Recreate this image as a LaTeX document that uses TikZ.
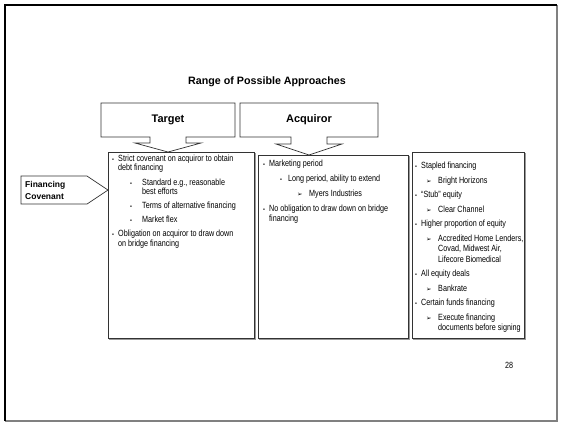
\documentclass[tikz,border=0pt]{standalone}
\usepackage{fontspec}
\setmainfont{Liberation Sans}
\newfontfamily\bodyfont[FakeStretch=0.80]{Liberation Sans}
\newfontfamily\symfont{DejaVu Sans}
\begin{document}
\begin{tikzpicture}[x=1pt,y=-1pt,
  boxline/.style={draw=black!80, line width=0.7pt, fill=white},
  shade/.style={draw=black!40, line width=1pt},
  txt/.style={anchor=base west, inner sep=0pt, font=\bodyfont\fontsize{9}{10}\selectfont},
  bul/.style={anchor=base west, inner sep=0pt, font=\fontsize{5.5}{6}\selectfont},
  arr/.style={anchor=base west, inner sep=0pt, font=\symfont\fontsize{6.5}{7}\selectfont},
  hdr/.style={inner sep=0pt, font=\bfseries\fontsize{11}{12}\selectfont},
  lbl/.style={anchor=base west, inner sep=0pt, font=\bfseries\fontsize{8.5}{10}\selectfont}]
\useasboundingbox (0,0) rectangle (563,424);
\fill[white] (0,0) rectangle (563,424);
% slide frame
\draw[black!50, line width=1.5pt] (557,5) -- (557,421) -- (5,421);
\draw[black, line width=2.2pt] (5,421) -- (5,5) -- (557,5);
% title
\node[font=\bfseries\fontsize{10.7}{12}\selectfont, inner sep=0pt] (title) at (267,82) {Range of Possible Approaches};
% body boxes (drawn first so header tips sit on them)
\draw[shade] (109.2,153.2) rectangle (255.2,339.2);
\draw[boxline] (108,152) rectangle (254,338);
\draw[shade] (259.2,156.2) rectangle (409.2,339.2);
\draw[boxline] (258,155) rectangle (408,338);
\draw[shade] (413.2,153.2) rectangle (525.2,339.2);
\draw[boxline] (412,152) rectangle (524,338);
% header callouts
\draw[boxline] (101,103) -- (235,103) -- (235,137) -- (186,137) -- (186,143) -- (201,143) -- (168,152) -- (135,143) -- (150,143) -- (150,137) -- (101,137) -- cycle;
\node[hdr] (tgt) at (168,120) {Target};
\draw[boxline] (240,103) -- (378,103) -- (378,137) -- (327,137) -- (327,144) -- (342,144) -- (309,155) -- (276,144) -- (291,144) -- (291,137) -- (240,137) -- cycle;
\node[hdr] (acq) at (309,120) {Acquiror};
% financing covenant callout
\draw[boxline] (21,176) -- (87,176) -- (108,190) -- (87,204) -- (21,204) -- cycle;
\node[lbl] (fc1) at (25,187) {Financing};
\node[lbl] (fc2) at (25,199) {Covenant};
% Target column
\node[bul] (t1b) at (112,161) {•};
\node[txt] (t1) at (118,161) {Strict covenant on acquiror to obtain};
\node[txt] (t1c) at (118,170.5) {debt financing};
\node[bul] (t2b) at (130,185) {•};
\node[txt] (t2) at (142,185) {Standard e.g., reasonable};
\node[txt] (t2c) at (142,194.5) {best efforts};
\node[bul] (t3b) at (130,208.5) {•};
\node[txt] (t3) at (142,208.5) {Terms of alternative financing};
\node[bul] (t4b) at (130,222.5) {•};
\node[txt] (t4) at (142,222.5) {Market flex};
\node[bul] (t5b) at (112,236.5) {•};
\node[txt] (t5) at (118,236.5) {Obligation on acquiror to draw down};
\node[txt] (t5c) at (118,246) {on bridge financing};
% Acquiror column
\node[bul] (a1b) at (263,166) {•};
\node[txt] (a1) at (269,166) {Marketing period};
\node[bul] (a2b) at (280,181) {•};
\node[txt] (a2) at (288,181) {Long period, ability to extend};
\node[arr] (a3b) at (297,196) {➢};
\node[txt] (a3) at (309,196) {Myers Industries};
\node[bul] (a4b) at (263,211) {•};
\node[txt] (a4) at (269,211) {No obligation to draw down on bridge};
\node[txt] (a4c) at (269,221) {financing};
% right column
\node[bul] (r1b) at (415,168) {•};
\node[txt] (r1) at (421,168) {Stapled financing};
\node[arr] (r2b) at (426,183) {➢};
\node[txt] (r2) at (438,183) {Bright Horizons};
\node[bul] (r3b) at (415,197) {•};
\node[txt] (r3) at (421,197) {“Stub” equity};
\node[arr] (r4b) at (426,212) {➢};
\node[txt] (r4) at (438,212) {Clear Channel};
\node[bul] (r5b) at (415,226) {•};
\node[txt] (r5) at (421,226) {Higher proportion of equity};
\node[arr] (r6b) at (426,241) {➢};
\node[txt] (r6) at (438,241) {Accredited Home Lenders,};
\node[txt] (r6c) at (438,251.5) {Covad, Midwest Air,};
\node[txt] (r6d) at (438,262) {Lifecore Biomedical};
\node[bul] (r7b) at (415,276) {•};
\node[txt] (r7) at (421,276) {All equity deals};
\node[arr] (r8b) at (426,291) {➢};
\node[txt] (r8) at (438,291) {Bankrate};
\node[bul] (r9b) at (415,305) {•};
\node[txt] (r9) at (421,305) {Certain funds financing};
\node[arr] (r10b) at (426,320) {➢};
\node[txt] (r10) at (438,320) {Execute financing};
\node[txt] (r10c) at (438,330.5) {documents before signing};
% page number
\node[txt] (pg) at (505,368) {28};
\end{tikzpicture}
\end{document}
